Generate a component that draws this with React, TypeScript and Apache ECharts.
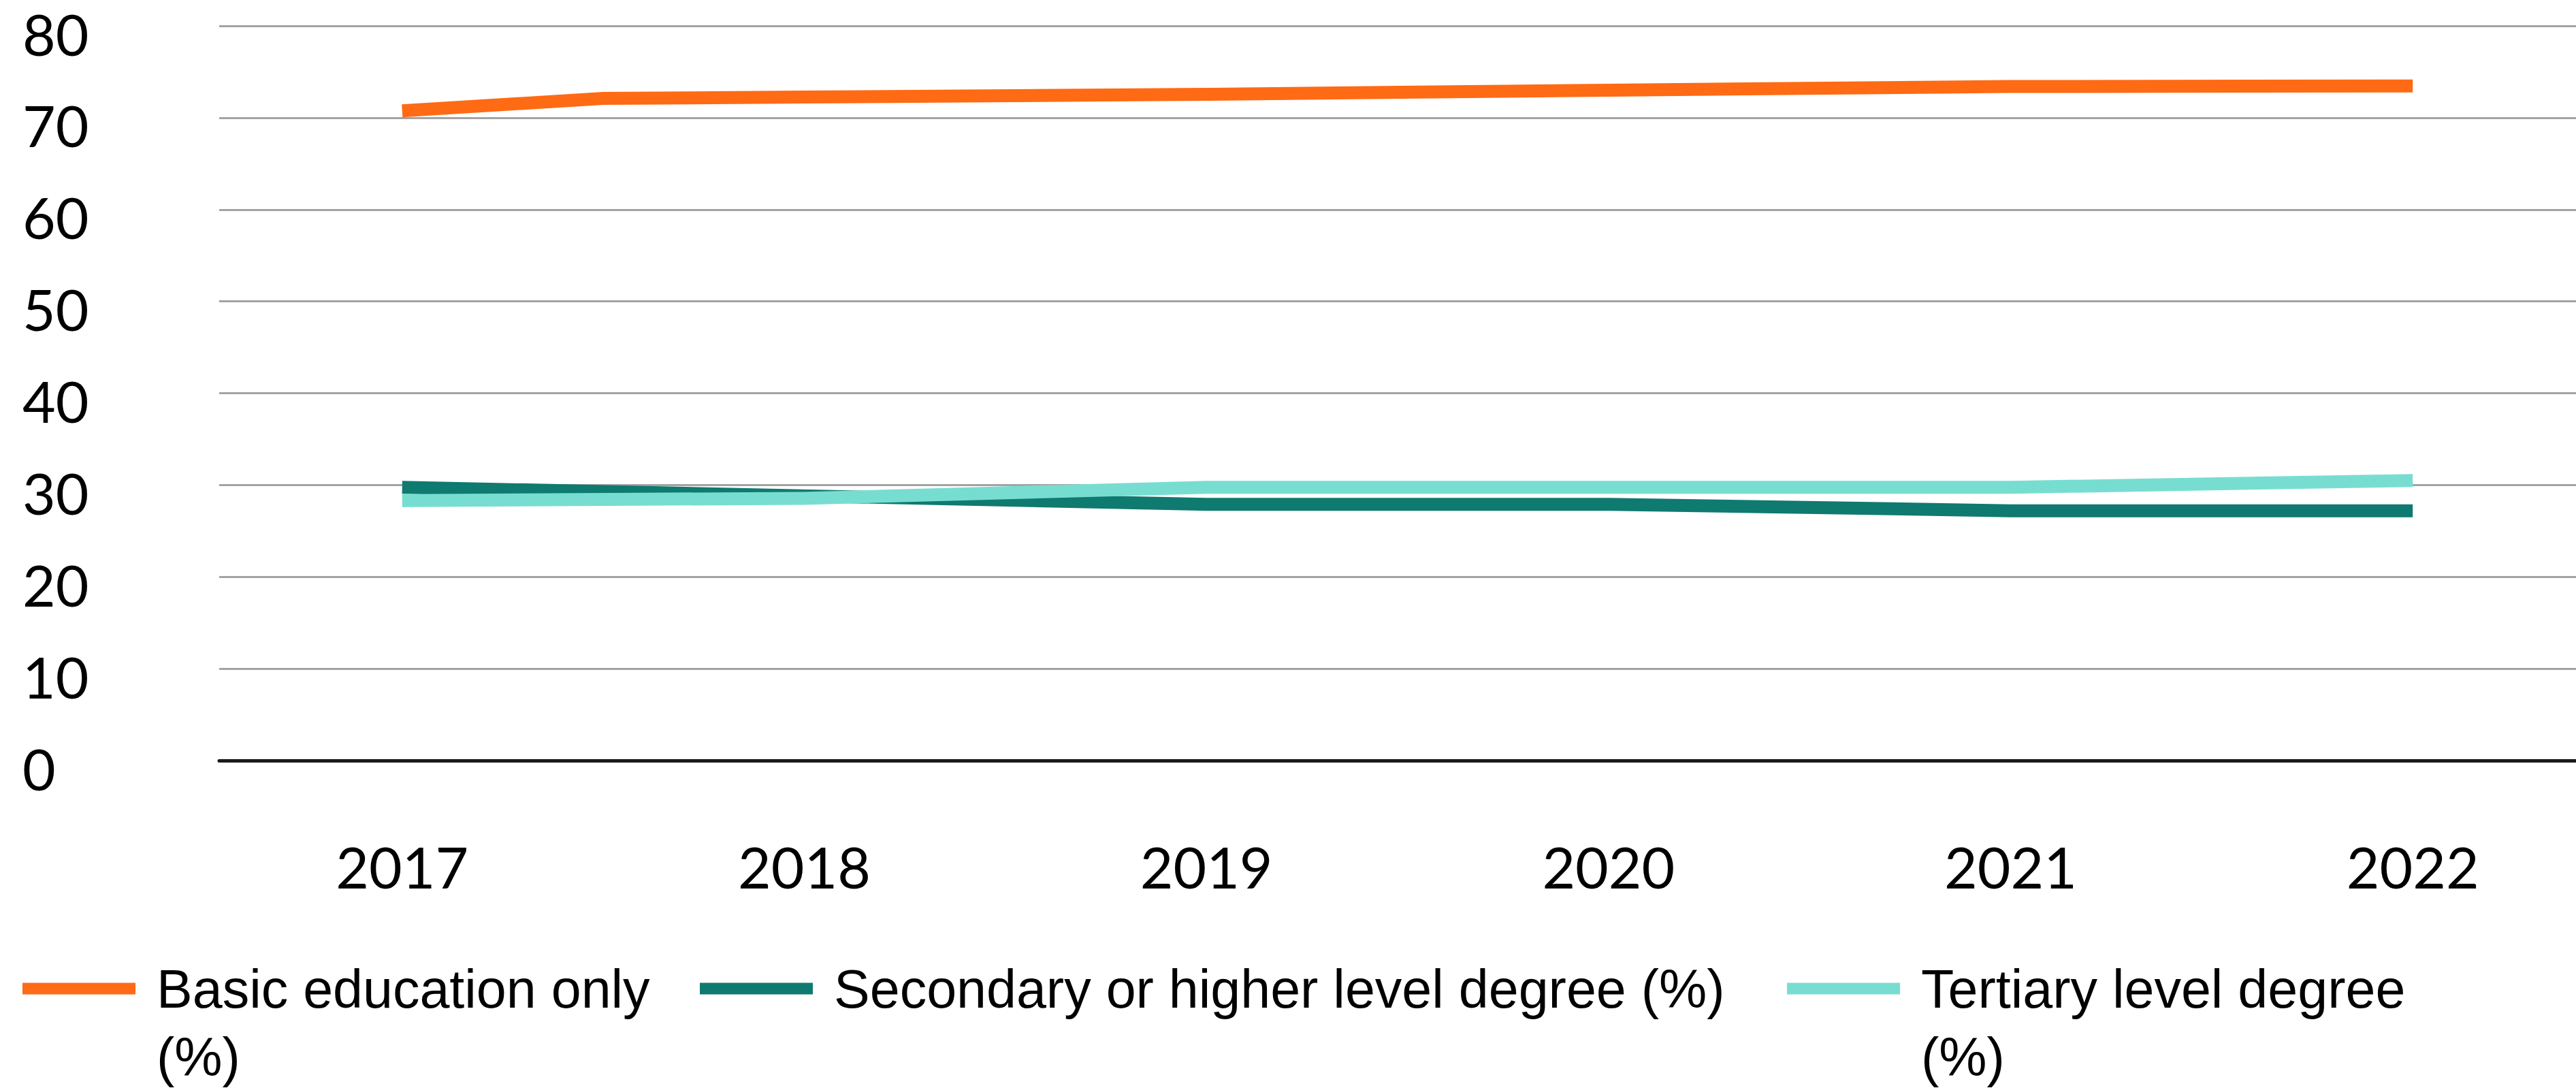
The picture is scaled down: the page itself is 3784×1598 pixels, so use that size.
import React, { useEffect, useRef } from "react";
import * as echarts from "echarts";

const seriesNames = [
  "Basic education only (%)",
  "Secondary or higher level degree (%)",
  "Tertiary level degree (%)",
];
const yearTicks = [2017, 2018, 2019, 2020, 2021, 2022];
const yTicks = [0, 10, 20, 30, 40, 50, 60, 70, 80];

const basicX = [2017, 2017.5, 2018, 2019, 2020, 2021, 2022];
const basicY = [70.75, 72.1, 72.25, 72.55, 73.0, 73.4, 73.45];

const secondaryX = [2017, 2019, 2020, 2021, 2022];
const secondaryY = [29.75, 27.9, 27.9, 27.2, 27.2];

const tertiaryX = [2017, 2018, 2019, 2020, 2021, 2022];
const tertiaryY = [28.3, 28.55, 29.75, 29.75, 29.75, 30.5];

const colors = ["#FF6A14", "#0F7A6F", "#78DDD1"];

const pairs = (xs: number[], ys: number[]) => xs.map((x, i) => [x, ys[i]]);

export default function App() {
  const ref = useRef<HTMLDivElement>(null);
  useEffect(() => {
    if (!ref.current) return;
    const chart = echarts.init(ref.current, null, { renderer: "svg" });
    const legendText = {
      fontFamily: "Liberation Sans",
      fontSize: 79,
      lineHeight: 100,
      color: "#000",
      padding: [0, 0, 0, 26],
    };
    const legendBase = {
      icon: "rect",
      itemWidth: 166,
      itemHeight: 17,
      padding: 0,
      selectedMode: false,
      orient: "horizontal",
      textStyle: legendText,
    };
    // wrapped items: a leading blank line keeps the first text line level with the icon
    const wrapFmt = (n: string) => "\n" + n.replace(" (%)", "\n(%)");
    chart.setOption({
      animation: false,
      backgroundColor: "#fff",
      grid: { left: 322, right: 0, top: 38, bottom: 481, containLabel: false },
      xAxis: {
        type: "value",
        min: 2016.545,
        max: 2022.406,
        axisLine: { show: true, lineStyle: { color: "#1a1a1a", width: 5 } },
        axisTick: { show: false },
        splitLine: { show: false },
        axisLabel: {
          customValues: yearTicks,
          formatter: (v: number) => String(Math.round(v)),
          fontFamily: "Lato",
          fontSize: 84,
          color: "#000",
          margin: 113,
        },
      },
      yAxis: {
        type: "value",
        min: yTicks[0],
        max: yTicks[yTicks.length - 1],
        interval: 10,
        axisLine: { show: false },
        axisTick: { show: false },
        splitLine: { show: true, lineStyle: { color: "#A3A3A3", width: 3 } },
        axisLabel: {
          fontFamily: "Lato",
          fontSize: 84,
          color: "#000",
          align: "left",
          verticalAlign: "top",
          lineHeight: 22,
          margin: 289,
        },
      },
      legend: [
        {
          ...legendBase,
          data: [seriesNames[0]],
          left: 33,
          top: 1302,
          formatter: wrapFmt,
        },
        {
          ...legendBase,
          data: [seriesNames[1]],
          left: 1028,
          top: 1402,
        },
        {
          ...legendBase,
          data: [seriesNames[2]],
          left: 2625,
          top: 1302,
          formatter: wrapFmt,
        },
      ],
      series: [
        { name: seriesNames[0], xs: basicX, ys: basicY },
        { name: seriesNames[1], xs: secondaryX, ys: secondaryY },
        { name: seriesNames[2], xs: tertiaryX, ys: tertiaryY },
      ].map((s, i) => ({
        type: "line",
        name: s.name,
        data: pairs(s.xs, s.ys),
        symbol: "none",
        color: colors[i],
        itemStyle: { color: colors[i] },
        lineStyle: { color: colors[i], width: 19, cap: "butt", join: "miter" },
        z: 2 + i,
      })),
    });
    return () => chart.dispose();
  }, []);
  return (
    <div
      ref={ref}
      style={{ position: "fixed", left: 0, top: 0, width: 3784, height: 1598 }}
    />
  );
}
